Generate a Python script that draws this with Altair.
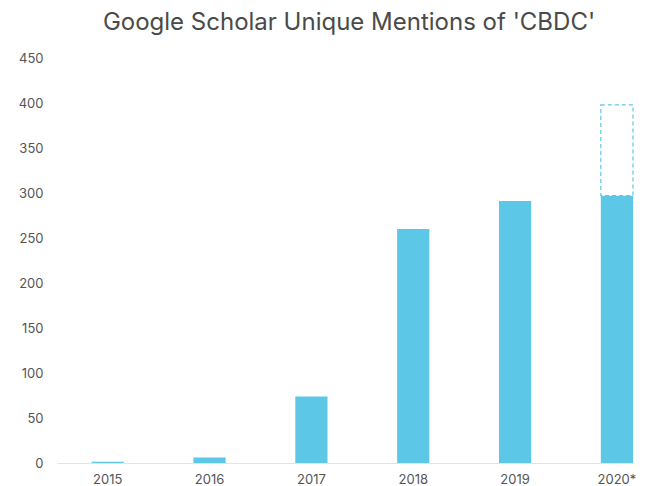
import altair as alt
import pandas as pd

years = ["2015", "2016", "2017", "2018", "2019", "2020*"]
mentions = [1.5, 6, 74, 260, 291, 297]
proj_year = ["2020*"]
proj_low = [297]
proj_high = [398]
y_ticks = [0, 50, 100, 150, 200, 250, 300, 350, 400, 450]

df = pd.DataFrame({"year": years, "mentions": mentions})
dp = pd.DataFrame({"year": proj_year, "low": proj_low, "high": proj_high})

BLUE = "#5cc7e6"
FONT = "Inter"

xscale = alt.Scale(domain=years, paddingInner=0.684, paddingOuter=0.17, align=1)
yscale = alt.Scale(domain=[0, 450], nice=False)

xaxis = alt.Axis(title=None, labelAngle=0, ticks=False, domain=True, domainColor="#e3e3e3",
                 domainWidth=1, labelColor="#555555", labelFontSize=13, labelFont=FONT,
                 labelPadding=10, grid=False)
yaxis = alt.Axis(title=None, values=y_ticks, ticks=False, domain=False, grid=False,
                 labelColor="#555555", labelFontSize=13, labelFont=FONT, labelPadding=14)

bars = alt.Chart(df).mark_bar(color=BLUE).encode(
    x=alt.X("year:N", scale=xscale, axis=xaxis, sort=years),
    y=alt.Y("mentions:Q", scale=yscale, axis=yaxis),
)

proj = alt.Chart(dp).mark_bar(fill=None, stroke=BLUE, strokeDash=[4, 3], strokeWidth=1.2,
                              fillOpacity=0).encode(
    x=alt.X("year:N", scale=xscale, sort=years),
    y=alt.Y("low:Q", scale=yscale),
    y2="high:Q",
)

chart = alt.layer(bars, proj).properties(
    width=576,
    height=405,
    autosize="none",
    padding={"left": 49, "top": 50, "right": 4, "bottom": 25},
    title=alt.TitleParams(
        "Google Scholar Unique Mentions of 'CBDC'",
        font=FONT, fontSize=24, fontWeight="normal", color="#4a4a4a",
        anchor="middle", dx=4, offset=17,
    ),
).configure_view(stroke=None)

chart.save("out.html", embed_options={"renderer": "svg", "actions": False})
